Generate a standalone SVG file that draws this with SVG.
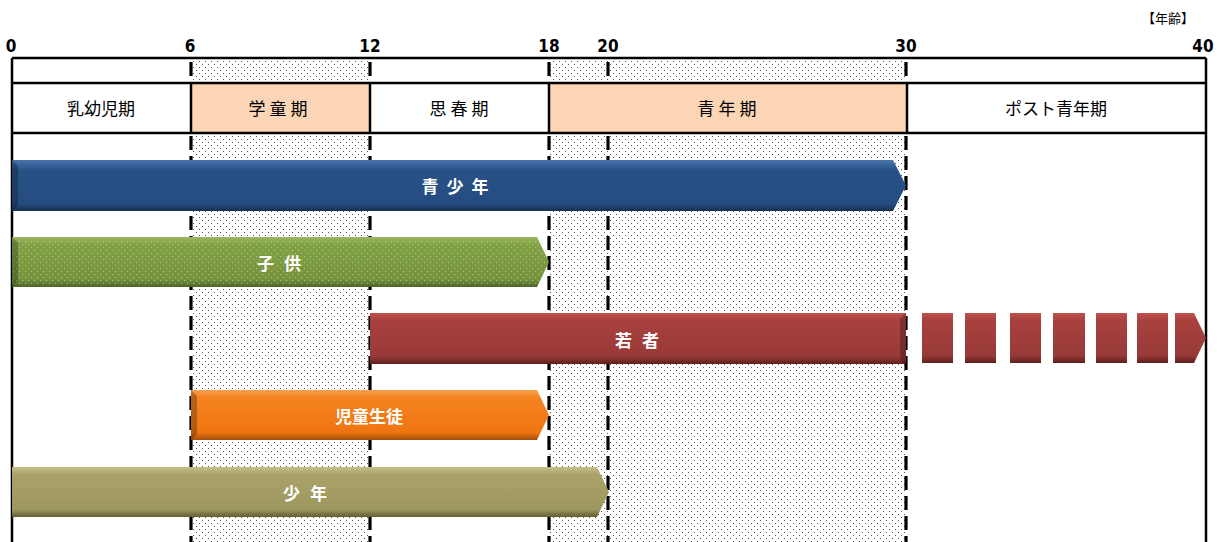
<svg xmlns="http://www.w3.org/2000/svg" width="1228" height="542" viewBox="0 0 1228 542">
<defs>
<pattern id="dots" width="6" height="6" patternUnits="userSpaceOnUse">
<rect x="1" y="1" width="1" height="1" fill="#555"/>
<rect x="4" y="4" width="1" height="1" fill="#555"/>
</pattern>
<pattern id="gdots" width="6" height="6" patternUnits="userSpaceOnUse">
<rect x="1" y="1" width="1.2" height="1.2" fill="#a9c27a"/>
<rect x="4" y="4" width="1.2" height="1.2" fill="#a9c27a"/>
</pattern>
<linearGradient id="gBlue" x1="0" y1="0" x2="0" y2="1">
<stop offset="0" stop-color="#4a74a8"/><stop offset="0.12" stop-color="#35609a"/><stop offset="0.2" stop-color="#285186"/><stop offset="0.85" stop-color="#254d82"/><stop offset="1" stop-color="#16304f"/>
</linearGradient>
<linearGradient id="gGreen" x1="0" y1="0" x2="0" y2="1">
<stop offset="0" stop-color="#9cb862"/><stop offset="0.15" stop-color="#82a145"/><stop offset="0.85" stop-color="#76923c"/><stop offset="1" stop-color="#4d6326"/>
</linearGradient>
<linearGradient id="gRed" x1="0" y1="0" x2="0" y2="1">
<stop offset="0" stop-color="#c0504d"/><stop offset="0.15" stop-color="#a8413e"/><stop offset="0.85" stop-color="#983a38"/><stop offset="1" stop-color="#5e1f1d"/>
</linearGradient>
<linearGradient id="gOrange" x1="0" y1="0" x2="0" y2="1">
<stop offset="0" stop-color="#f8a050"/><stop offset="0.15" stop-color="#f58220"/><stop offset="0.85" stop-color="#ef7512"/><stop offset="1" stop-color="#a34e0a"/>
</linearGradient>
<linearGradient id="gOlive" x1="0" y1="0" x2="0" y2="1">
<stop offset="0" stop-color="#c6bf86"/><stop offset="0.15" stop-color="#aaa268"/><stop offset="0.85" stop-color="#9d975f"/><stop offset="1" stop-color="#625d34"/>
</linearGradient>
<style>
.hdr{font-family:"Noto Sans CJK JP","Noto Sans",sans-serif;font-size:17px;fill:#000;text-anchor:middle}
.num{font-family:"DejaVu Sans",sans-serif;font-stretch:condensed;font-size:17px;font-weight:bold;fill:#000;text-anchor:middle}
.lbl{font-family:"Noto Sans CJK JP",sans-serif;font-size:17px;font-weight:bold;fill:#fff;text-anchor:middle}
.dash{stroke:#000;stroke-width:3.2;stroke-dasharray:14,6;fill:none}
.solid{stroke:#000;stroke-width:2.5;fill:none}
.edge{fill:#000;opacity:0.25}
</style>
</defs>
<rect width="1228" height="542" fill="#fff"/>
<g id="grid">
<rect x="191" y="58" width="179" height="484" fill="url(#dots)"/>
<rect x="549" y="58" width="357" height="484" fill="url(#dots)"/>
<rect x="191" y="83" width="179" height="50" fill="#fbd5b5"/>
<rect x="549" y="83" width="357" height="50" fill="#fbd5b5"/>
<line class="solid" x1="12" y1="58" x2="1206" y2="58"/>
<line class="solid" x1="12" y1="83" x2="1206" y2="83"/>
<line class="solid" x1="12" y1="133" x2="1206" y2="133"/>
<line class="solid" x1="12" y1="58" x2="12" y2="542"/>
<line class="solid" x1="1206" y1="58" x2="1206" y2="542"/>
<line class="solid" x1="191" y1="83" x2="191" y2="133"/>
<line class="solid" x1="370" y1="83" x2="370" y2="133"/>
<line class="solid" x1="549" y1="83" x2="549" y2="133"/>
<line class="solid" x1="907" y1="83" x2="907" y2="133"/>
<g class="dash">
<line x1="191" y1="62" x2="191" y2="81"/><line x1="191" y1="136" x2="191" y2="542"/>
<line x1="370" y1="62" x2="370" y2="81"/><line x1="370" y1="136" x2="370" y2="542"/>
<line x1="549" y1="62" x2="549" y2="81"/><line x1="549" y1="136" x2="549" y2="542"/>
<line x1="608" y1="62" x2="608" y2="81"/><line x1="608" y1="136" x2="608" y2="542"/>
<line x1="906" y1="62" x2="906" y2="81"/><line x1="906" y1="136" x2="906" y2="542"/>
</g>
</g>
<g id="axis">
<text class="num" x="11" y="52">0</text>
<text class="num" x="190" y="52">6</text>
<text class="num" x="370" y="52">12</text>
<text class="num" x="549" y="52">18</text>
<text class="num" x="608" y="52">20</text>
<text class="num" x="906" y="52">30</text>
<text class="num" x="1203" y="52">40</text>
<text x="1168" y="23" style="font-family:'Noto Sans CJK JP',sans-serif;font-size:13px;text-anchor:middle">【年齢】</text>
</g>
<g id="header">
<text class="hdr" x="101" y="115">乳幼児期</text>
<text class="hdr" x="280" y="115" letter-spacing="4">学童期</text>
<text class="hdr" x="461" y="115" letter-spacing="4">思春期</text>
<text class="hdr" x="729" y="115" letter-spacing="4">青年期</text>
<text class="hdr" x="1056" y="115">ポスト青年期</text>
</g>
<g id="bar-seishonen">
<path d="M12,160 H893 L906,185.5 L893,211 H12 Z" fill="url(#gBlue)"/>
<path class="edge" d="M12,160 L18,166 V205 L12,211 Z"/>
<text class="lbl" x="459" y="193" letter-spacing="8">青少年</text>
</g>
<g id="bar-kodomo">
<path d="M12,237 H537 L549,262 L537,287 H12 Z" fill="url(#gGreen)"/>
<path d="M12,240 H537 L548,262 L537,284 H12 Z" fill="url(#gdots)"/>
<path class="edge" d="M12,237 L18,243 V281 L12,287 Z"/>
<text class="lbl" x="284" y="270" letter-spacing="10">子供</text>
</g>
<g id="bar-wakamono">
<rect x="370" y="313" width="536" height="51" fill="url(#gRed)"/>
<path class="edge" d="M900,319 L906,313 V364 L900,358 Z"/>
<rect x="922" y="313" width="31" height="50" fill="url(#gRed)"/>
<rect x="965" y="313" width="31" height="50" fill="url(#gRed)"/>
<rect x="1010" y="313" width="31" height="50" fill="url(#gRed)"/>
<rect x="1053" y="313" width="32" height="50" fill="url(#gRed)"/>
<rect x="1096" y="313" width="31" height="50" fill="url(#gRed)"/>
<rect x="1137" y="313" width="31" height="50" fill="url(#gRed)"/>
<path d="M1175,313 H1194 L1206,338 L1194,363 H1175 Z" fill="url(#gRed)"/>
<text class="lbl" x="642" y="347" letter-spacing="10">若者</text>
</g>
<g id="bar-jidoseito">
<path d="M191,390 H537 L549,415 L537,440 H191 Z" fill="url(#gOrange)"/>
<path class="edge" d="M191,390 L197,396 V434 L191,440 Z"/>
<text class="lbl" x="369" y="423">児童生徒</text>
</g>
<g id="bar-shonen">
<path d="M12,467 H597 L609,492 L597,517 H12 Z" fill="url(#gOlive)"/>
<text class="lbl" x="310" y="500" letter-spacing="10">少年</text>
</g>
</svg>
